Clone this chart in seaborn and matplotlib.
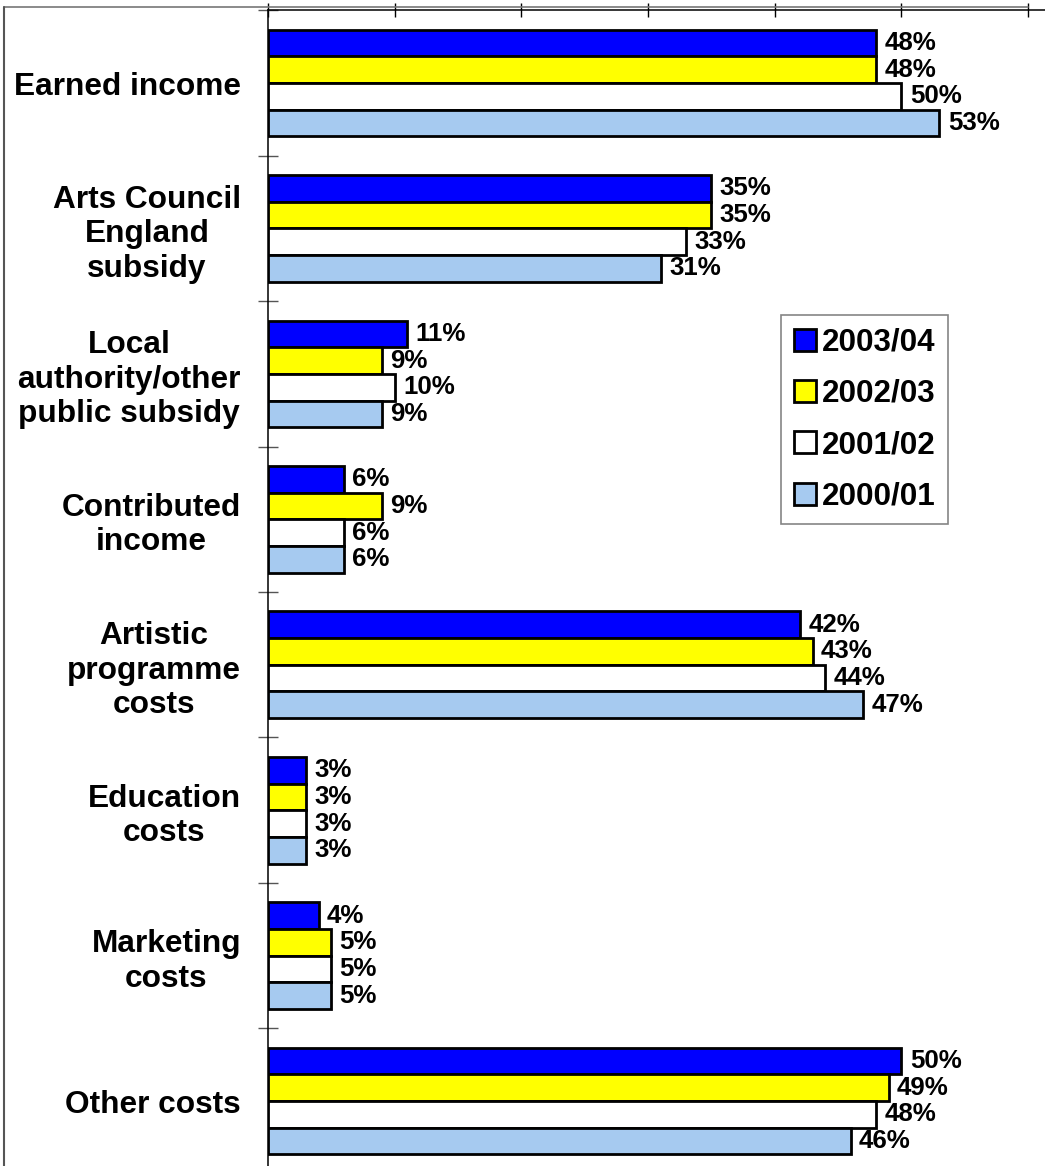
import matplotlib
matplotlib.use("Agg")
import matplotlib.pyplot as plt
from matplotlib.lines import Line2D
import numpy as np
import pandas as pd
import seaborn as sns

categories = [
    "Earned income",
    "Arts Council\nEngland\nsubsidy",
    "Local\nauthority/other\npublic subsidy",
    "Contributed\nincome",
    "Artistic\nprogramme\ncosts",
    "Education\ncosts",
    "Marketing\ncosts",
    "Other costs",
]
years = ["2003/04", "2002/03", "2001/02", "2000/01"]
v_2003_04 = [48, 35, 11, 6, 42, 3, 4, 50]
v_2002_03 = [48, 35, 9, 9, 43, 3, 5, 49]
v_2001_02 = [50, 33, 10, 6, 44, 3, 5, 48]
v_2000_01 = [53, 31, 9, 6, 47, 3, 5, 46]
colors = ["#0000FF", "#FFFF00", "#FFFFFF", "#A6CAF0"]

series = [v_2003_04, v_2002_03, v_2001_02, v_2000_01]
df = pd.DataFrame(
    [(c, y, v) for y, vals in zip(years, series) for c, v in zip(categories, vals)],
    columns=["category", "year", "share"],
)

sns.set_theme(style="white")
plt.rcParams["font.family"] = ["Liberation Sans", "DejaVu Sans"]
plt.rcParams["font.weight"] = "bold"
for key in ["text.color", "axes.labelcolor", "xtick.color", "ytick.color"]:
    plt.rcParams[key] = "black"

W, H = 1045, 1166
fig = plt.figure(figsize=(W / 100, H / 100), dpi=100)
ax = fig.add_axes([268 / W, 1 - 1173.8 / H, (W - 268) / W, 1163.5 / H])

sns.barplot(
    data=df, y="category", x="share", hue="year",
    order=categories, hue_order=years, palette=colors,
    width=0.734, edgecolor="black", linewidth=2, saturation=1,
    orient="h", ax=ax,
)

for cont in ax.containers:
    ax.bar_label(cont, fmt="%d%%", padding=6, fontsize=18.6,
                 fontweight="bold", color="black")

ax.set_xlim(0, 61.34)
ax.set_ylim(len(categories) - 0.5, -0.5)
ax.set_xlabel("")
ax.set_ylabel("")

# axis frame: top and left only
for side in ["right", "bottom"]:
    ax.spines[side].set_visible(False)
for side in ["top", "left"]:
    ax.spines[side].set_color("black")
    ax.spines[side].set_linewidth(1.1)

# x ticks on top, no labels
ax.xaxis.set_ticks_position("top")
ax.set_xticks(np.arange(0, 61, 10))
ax.tick_params(axis="x", which="major", direction="inout", length=9.4,
               width=1, color="black", labeltop=False, labelbottom=False, top=True)

# category labels at group centres, tick marks at group boundaries
ax.set_yticks(np.arange(len(categories)))
ax.set_yticklabels(categories)
ax.set_yticks(np.arange(-0.5, len(categories), 1.0), minor=True)
ax.tick_params(axis="y", which="major", length=0, pad=19.5, labelsize=22.8,
               labelcolor="black")
ax.tick_params(axis="y", which="minor", direction="inout", length=15,
               width=1, color="#555555", left=True)
for lab in ax.get_yticklabels():
    lab.set_multialignment("center")
    lab.set_fontweight("bold")
    lab.set_color("black")

handles, labels = ax.get_legend_handles_labels()
leg = ax.legend(
    handles, labels, loc="upper left",
    bbox_to_anchor=(781 / W, 1 - 315 / H), bbox_transform=fig.transFigure,
    borderaxespad=0, frameon=True, fancybox=False, shadow=False,
    prop={"size": 22.6, "weight": "bold"},
    handlelength=0.7, handleheight=0.7, handletextpad=0.2,
    labelspacing=0.68, borderpad=0.4, title=None,
)
leg.get_frame().set_edgecolor("#666666")
leg.get_frame().set_linewidth(1.2)
for t in leg.get_texts():
    t.set_color("black")

# outer border of the figure
fig.add_artist(Line2D([4 / W, 1028 / W], [1 - 7 / H, 1 - 7 / H],
                      transform=fig.transFigure, color="#777777", lw=1.2))
fig.add_artist(Line2D([4 / W, 4 / W], [1 - 7 / H, 0],
                      transform=fig.transFigure, color="#555555", lw=1.5))

fig.savefig("out.png", dpi=100, facecolor="white")
